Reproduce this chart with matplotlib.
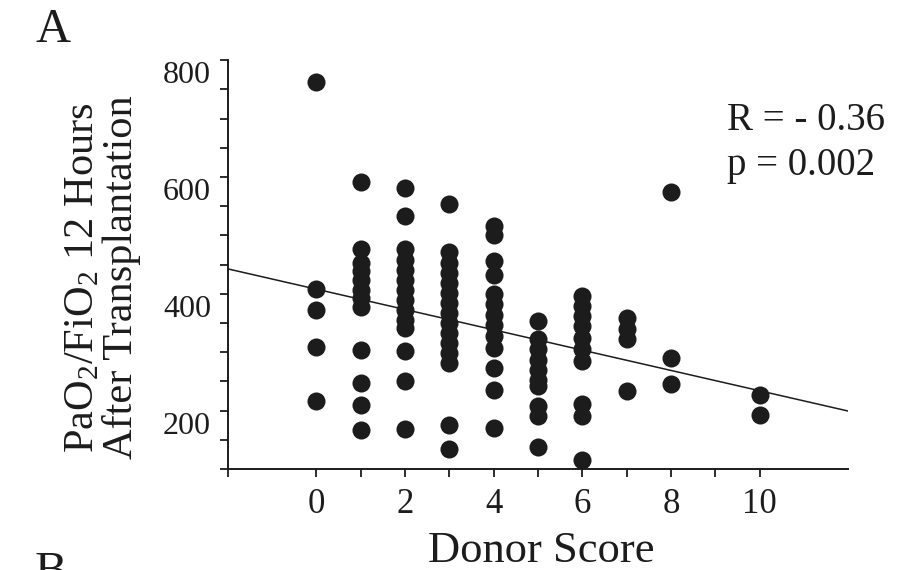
import numpy as np
import matplotlib
matplotlib.use("Agg")
import matplotlib.pyplot as plt
from matplotlib.transforms import ScaledTranslation

plt.rcParams['font.family'] = ['Liberation Serif', 'DejaVu Serif']
plt.rcParams['mathtext.fontset'] = 'custom'
plt.rcParams['mathtext.rm'] = 'Liberation Serif'
plt.rcParams['mathtext.it'] = 'Liberation Serif:italic'

# PaO2/FiO2 at 12 h after transplantation, one list per donor score
scores = [0, 1, 2, 3, 4, 5, 6, 7, 8, 10]
pf_s0 = [762, 408, 373, 309, 216]
pf_s1 = [591, 477, 453, 439, 424, 407, 393, 378, 303, 248, 210, 166]
pf_s2 = [582, 533, 476, 458, 441, 424, 407, 390, 373, 356, 342, 302, 250, 169]
pf_s3 = [554, 471, 453, 436, 419, 401, 384, 367, 350, 333, 316, 299, 282,
         176, 135]
pf_s4 = [516, 500, 456, 433, 399, 382, 364, 347, 327, 307, 273, 235, 171]
pf_s5 = [353, 322, 305, 287, 270, 253, 242, 208, 191, 138]
pf_s6 = [396, 379, 362, 345, 325, 305, 285, 211, 191, 116]
pf_s7 = [359, 339, 322, 233]
pf_s8 = [575, 290, 245]
pf_s10 = [226, 192]
groups = [pf_s0, pf_s1, pf_s2, pf_s3, pf_s4, pf_s5, pf_s6, pf_s7, pf_s8, pf_s10]

# linear fit
fit_intercept = 408
fit_slope = -17.4
stats_r = 'R = - 0.36'
stats_p = 'p = 0.002'

x = []
y = []
for s, vals in zip(scores, groups):
    x += [s] * len(vals)
    y += vals

ink = '#1c1c1c'

fig = plt.figure(figsize=(9.17, 5.70), dpi=100)
ax = fig.add_axes([0.2483, 0.1772, 0.6768, 0.7170])

ax.scatter(x, y, s=13 ** 2, color=ink, linewidths=0, zorder=3, clip_on=False)
xs = np.array([-2, 12])
ax.plot(xs, fit_intercept + fit_slope * xs, color=ink, lw=1.1, zorder=2)

ax.set_xlim(-2, 12)
ax.set_ylim(100, 800)
ax.set_xticks([0, 2, 4, 6, 8, 10])
ax.set_xticks([-2, 1, 3, 5, 7, 9], minor=True)
ax.set_yticks([200, 400, 600, 800])
ax.set_yticks(np.arange(100, 801, 50), minor=True)

for side in ['top', 'right']:
    ax.spines[side].set_visible(False)
for side in ['left', 'bottom']:
    ax.spines[side].set_linewidth(1.4)
    ax.spines[side].set_color(ink)

ax.tick_params(which='both', direction='out', length=6, width=1.3, color=ink)
ax.tick_params(axis='x', labelsize=25, pad=8, labelcolor=ink)
ax.tick_params(axis='y', labelsize=23, pad=6, labelcolor=ink)

# y tick labels sit a little below their ticks
shift = ScaledTranslation(0, -0.12, fig.dpi_scale_trans)
for lab in ax.get_yticklabels():
    lab.set_transform(lab.get_transform() + shift)

ax.set_xlabel('Donor Score', fontsize=32, color=ink)
ax.xaxis.set_label_coords(0.506, -0.227)
ax.xaxis.label.set_va('baseline')

ax.set_ylabel('PaO$_2$/FiO$_2$ 12 Hours\nAfter Transplantation',
              fontsize=30.5, linespacing=1.0, color=ink)
ax.yaxis.set_label_coords(-0.202, 0.469)
ax.yaxis.label.set_va('center')

ax.text(0.8046, 0.829, stats_r, transform=ax.transAxes, fontsize=28,
        va='baseline', color=ink)
ax.text(0.8046, 0.719, stats_p, transform=ax.transAxes, fontsize=28,
        va='baseline', color=ink)

fig.text(35 / 917, 1 - 42 / 570, 'A', fontsize=35, va='baseline', color=ink)
fig.text(35 / 917, -15 / 570, 'B', fontsize=35, va='baseline', color=ink)

fig.savefig('out.png', dpi=100)
